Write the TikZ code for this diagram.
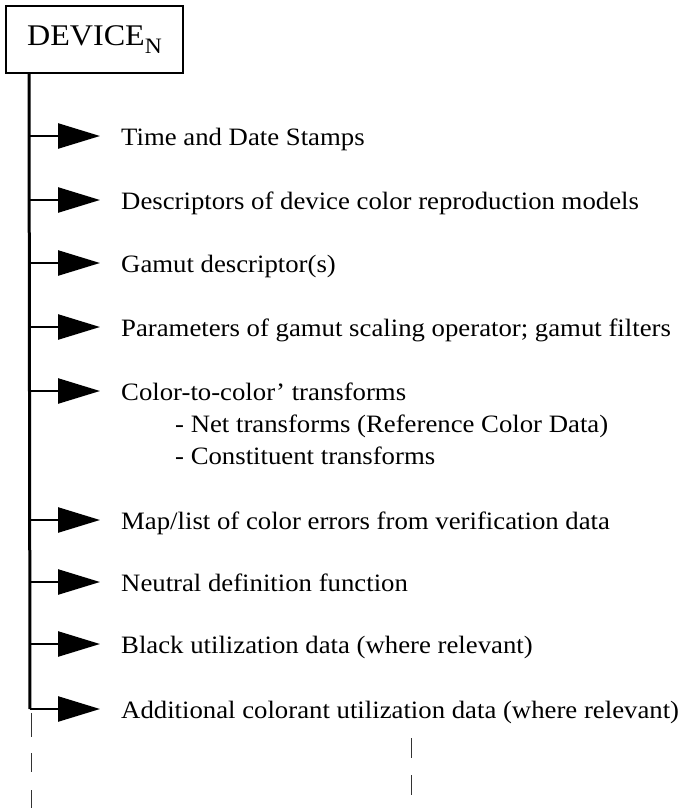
\documentclass[tikz,border=0pt]{standalone}
\usepackage{fontspec}
\setmainfont{Liberation Serif}[FakeStretch=1.07]
\usetikzlibrary{arrows.meta}

\tikzset{
  headbox/.style={draw, line width=2pt, minimum width=177pt, minimum height=67pt,
    inner sep=0pt, font=\fontsize{30}{34}\selectfont},
  spine/.style={line width=3pt},
  branch/.style={line width=2.5pt, -{Triangle[length=42pt,width=25pt]}, shorten >=21pt},
  item/.style={anchor=base west, inner sep=0pt, font=\fontsize{25}{30}\selectfont},
  subitem/.style={anchor=base west, inner sep=0pt, font=\fontsize{25}{30}\selectfont},
  tail/.style={line width=1pt, black!80}
}

\begin{document}
\begin{tikzpicture}[x=1pt,y=-1pt]
  \useasboundingbox (0,0) rectangle (685,809);

  % header box
  \node[headbox] (box) at (94.5,39.5) {DEVICE\raisebox{-8pt}{\fontsize{22}{24}\selectfont N}};

  % junctions on the spine
  \coordinate (spinetop) at ([xshift=24pt]box.south west);
  \foreach \i/\y in {1/136,2/200,3/263,4/327,5/391,6/520,7/582,8/644,9/709}
    \coordinate (j\i) at (30,\y);

  % item texts
  \node[item] (t1) at (121,145.5) {Time and Date Stamps};
  \node[item] (t2) at (121,209.5) {Descriptors of device color reproduction models};
  \node[item] (t3) at (121,272.5) {Gamut descriptor(s)};
  \node[item] (t4) at (121,336.5) {Parameters of gamut scaling operator; gamut filters};
  \node[item] (t5) at (121,400.5) {Color-to-color’ transforms};
  \node[subitem] (t5a) at (175,432.5) {- Net transforms (Reference Color Data)};
  \node[subitem] (t5b) at (175,464.5) {- Constituent transforms};
  \node[item] (t6) at (121,529.5) {Map/list of color errors from verification data};
  \node[item] (t7) at (121,591.5) {Neutral definition function};
  \node[item] (t8) at (121,653.5) {Black utilization data (where relevant)};
  \node[item] (t9) at (121,718.5) {Additional colorant utilization data (where relevant)};

  % spine and branches
  \draw[spine] (spinetop) -- (j9);
  \foreach \i in {1,...,9}
    \draw[branch] (j\i) -- (j\i -| t\i.west);

  % continuation strokes below the list
  \coordinate (la1) at (31,713); \coordinate (lb1) at (31,737);
  \coordinate (la2) at (31,753); \coordinate (lb2) at (31,772);
  \coordinate (la3) at (31,790); \coordinate (lb3) at (31,808);
  \coordinate (ra1) at (411,738); \coordinate (rb1) at (411,758);
  \coordinate (ra2) at (411,775); \coordinate (rb2) at (411,795);
  \draw[tail] (la1) -- (lb1) (la2) -- (lb2) (la3) -- (lb3);
  \draw[tail] (ra1) -- (rb1) (ra2) -- (rb2);
\end{tikzpicture}
\end{document}
